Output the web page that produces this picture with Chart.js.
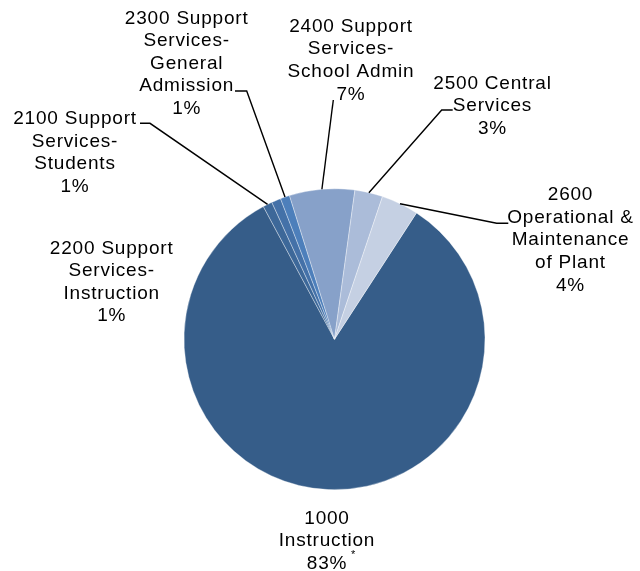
<!DOCTYPE html>
<html>
<head>
<meta charset="utf-8">
<script src="https://cdn.jsdelivr.net/npm/chart.js@4/dist/chart.umd.min.js"></script>
<style>
  html, body { margin: 0; padding: 0; background: #fff; }
  #wrap { width: 640px; height: 571px; }
</style>
</head>
<body>
<div id="wrap"><canvas id="budgetPie"></canvas></div>
<script>
// expenditure categories, one row of label text per line
const categoryLines = [
  ['1000', 'Instruction'],
  ['2100 Support', 'Services-', 'Students'],
  ['2200 Support', 'Services-', 'Instruction'],
  ['2300 Support', 'Services-', 'General', 'Admission'],
  ['2400 Support', 'Services-', 'School Admin'],
  ['2500 Central', 'Services'],
  ['2600', 'Operational &', 'Maintenance', 'of Plant'],
]
const shares = [83, 1, 1, 1, 7, 3, 4]
const footnotes = ['*', '', '', '', '', '', '']
const sliceColors = ['#365d89', '#3d6899', '#4471a8', '#4d7fbb', '#87a1c9', '#abbcd9', '#c5d0e3']

// where each label block sits (center x, center of first line) and the leader elbow
const labelSpots = [
  {x: 327, y: 516.7, leader: null},
  {x: 75, y: 117.3, leader: [[140, 123.3], [150, 123.3]]},
  {x: 111.7, y: 246.7, leader: null},
  {x: 186.7, y: 16.7, leader: [[235, 91], [246.7, 91]]},
  {x: 351, y: 25, leader: [[333.3, 100]]},
  {x: 492.5, y: 81.7, leader: [[452.7, 110], [441.7, 110]]},
  {x: 570.5, y: 193.3, leader: [[508.3, 223.3], [496.7, 223.3]]},
]
const lineGap = 22.65
const labelFont = '19px "Liberation Sans", Arial, sans-serif'

const pieLabels = {
  id: 'pieLabels',
  afterDatasetsDraw(chart) {
    const ctx = chart.ctx
    const arcs = chart.getDatasetMeta(0).data
    ctx.save()

    // leader lines from the label to the slice edge
    ctx.strokeStyle = '#000'
    ctx.lineWidth = 1.4
    arcs.forEach((arc, i) => {
      const spot = labelSpots[i]
      if (!spot.leader) return
      const {x, y, startAngle, endAngle, outerRadius} = arc.getProps(['x', 'y', 'startAngle', 'endAngle', 'outerRadius'], true)
      const mid = (startAngle + endAngle) / 2
      ctx.beginPath()
      spot.leader.forEach(([px, py], k) => k === 0 ? ctx.moveTo(px, py) : ctx.lineTo(px, py))
      ctx.lineTo(x + Math.cos(mid) * outerRadius, y + Math.sin(mid) * outerRadius)
      ctx.stroke()
    })

    // label text: name lines then the share
    ctx.fillStyle = '#000'
    ctx.font = labelFont
    ctx.textAlign = 'center'
    ctx.textBaseline = 'alphabetic'
    ctx.letterSpacing = '0.8px'
    categoryLines.forEach((lines, i) => {
      const spot = labelSpots[i]
      const rows = [...lines, `${shares[i]}%`]
      rows.forEach((row, k) => {
        ctx.fillText(row, spot.x, spot.y + k * lineGap + 6.8)
      })
      if (footnotes[i]) {
        const last = rows[rows.length - 1]
        const w = ctx.measureText(last).width
        const ly = spot.y + (rows.length - 1) * lineGap
        ctx.font = '11px "Liberation Sans", Arial, sans-serif'
        ctx.letterSpacing = '0px'
        ctx.fillText(footnotes[i], spot.x + w / 2 + 6, ly - 4)
        ctx.font = labelFont
        ctx.letterSpacing = '0.8px'
      }
    })
    ctx.restore()
  },
}

new Chart(document.getElementById('budgetPie'), {
  type: 'pie',
  data: {
    labels: categoryLines.map(lines => lines.join(' ')),
    datasets: [{
      data: shares,
      backgroundColor: sliceColors,
      borderColor: 'rgba(255, 255, 255, 0.35)',
      borderWidth: 1,
    }],
  },
  options: {
    responsive: true,
    maintainAspectRatio: false,
    animation: false,
    rotation: 33,
    layout: {
      padding: {left: 183.5, right: 154.5, top: 188.2, bottom: 80.8},
    },
    plugins: {
      legend: {display: false},
      tooltip: {enabled: false},
    },
  },
  plugins: [pieLabels],
})
</script>
</body>
</html>
